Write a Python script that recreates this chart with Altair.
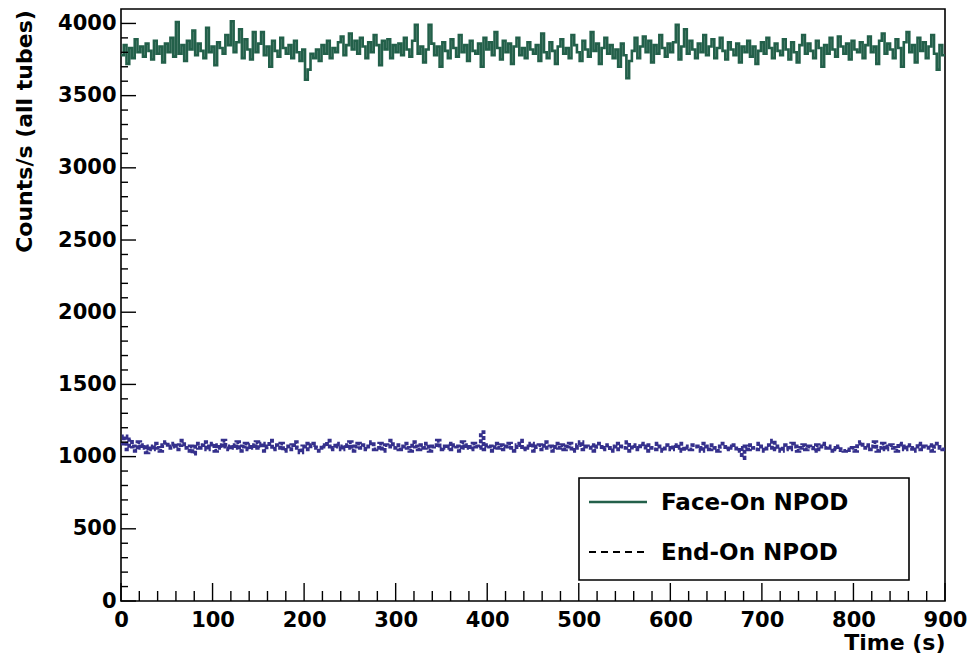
import altair as alt
import pandas as pd

# ---------------- data ----------------
bin_edges = list(range(0, 901, 3))  # 300 bins of 3 s, last edge = 900 s

face_on = [
    3780, 3850, 3720, 3830, 3760, 3890, 3800, 3840, 3770, 3860,
    3810, 3750, 3880, 3790, 3840, 3730, 3860, 3800, 3900, 3770,
    4010, 3790, 3850, 3740, 3880, 3820, 3950, 3780, 3860, 3810,
    3760, 3970, 3800, 3840, 3710, 3870, 3830, 3790, 3920, 3850,
    4015, 3800, 3870, 3960, 3760, 3890, 3820, 3750, 3940, 3800,
    3860, 3940, 3780, 3840, 3700, 3880, 3810, 3770, 3900, 3830,
    3790, 3850, 3760, 3880, 3800, 3740, 3820, 3610, 3680, 3790,
    3760, 3820, 3740, 3850, 3790, 3880, 3760, 3830, 3800, 3870,
    3910, 3780, 3850, 3930, 3820, 3880, 3790, 3900, 3840, 3760,
    3870, 3800, 3920, 3850, 3710, 3880, 3820, 3890, 3760, 3850,
    3800, 3860, 3780, 3900, 3820, 3770, 3880, 3990, 3790, 3840,
    3730, 3820, 3990, 3860, 3780, 3840, 3700, 3870, 3810, 3760,
    3890, 3830, 3770, 3920, 3800, 3850, 3740, 3880, 3810, 3790,
    3860, 3700, 3900, 3820, 3870, 3780, 3940, 3830, 3750, 3880,
    3800, 3860, 3720, 3840, 3900, 3780, 3830, 3760, 3870, 3820,
    3790, 3850, 3740, 3930, 3800, 3760, 3870, 3810, 3720, 3840,
    3890, 3790, 3830, 3760, 3920, 3850, 3800, 3740, 3880, 3820,
    3770, 3940, 3810, 3860, 3720, 3830, 3900, 3790, 3850, 3760,
    3820, 3700, 3860, 3780, 3620, 3740, 3810, 3900, 3760, 3840,
    3910, 3800, 3880, 3730, 3850, 3790, 3920, 3830, 3770, 3860,
    3800, 3870, 3990, 3750, 3840, 3960, 3790, 3880, 3820, 3760,
    3860, 3800, 3920, 3780, 3840, 3890, 3760, 3830, 3900, 3810,
    3750, 3870, 3820, 3780, 3860, 3730, 3840, 3800, 3880, 3770,
    3840, 3720, 3810, 3870, 3790, 3900, 3830, 3760, 3860, 3810,
    3780, 3890, 3820, 3750, 3870, 3800, 3730, 3850, 3920, 3790,
    3860, 3810, 3760, 3880, 3830, 3700, 3850, 3790, 3900, 3820,
    3770, 3910, 3840, 3790, 3860, 3750, 3880, 3820, 3800, 3870,
    3760, 3850, 3910, 3800, 3840, 3720, 3880, 3930, 3790, 3860,
    3820, 3760, 3890, 3830, 3700, 3870, 3940, 3800, 3850, 3730,
    3900, 3810, 3870, 3760, 3840, 3920, 3790, 3680, 3850, 3780,
]

end_on = [
    1090, 1140, 1050, 1120, 1070, 1040, 1100, 1060, 1080, 1030,
    1070, 1050, 1090, 1060, 1040, 1080, 1100, 1060, 1070, 1090,
    1050, 1080, 1110, 1060, 1040, 1070, 1020, 1090, 1060, 1080,
    1100, 1050, 1070, 1090, 1040, 1080, 1060, 1110, 1070, 1050,
    1080, 1060, 1100, 1040, 1070, 1090, 1050, 1080, 1060, 1100,
    1060, 1090, 1040, 1070, 1110, 1050, 1080, 1060, 1090, 1040,
    1070, 1050, 1080, 1100, 1060, 1030, 1070, 1090, 1050, 1080,
    1090, 1060, 1040, 1080, 1070, 1110, 1050, 1060, 1090, 1070,
    1050, 1080, 1060, 1100, 1040, 1070, 1090, 1060, 1080, 1050,
    1070, 1100, 1050, 1060, 1090, 1040, 1080, 1070, 1110, 1060,
    1080, 1050, 1070, 1090, 1060, 1040, 1100, 1070, 1050, 1080,
    1060, 1090, 1040, 1070, 1080, 1110, 1050, 1070, 1060, 1090,
    1050, 1080, 1070, 1040, 1100, 1060, 1080, 1050, 1090, 1070,
    1060, 1170, 1050, 1080, 1070, 1040, 1090, 1060, 1080, 1050,
    1070, 1090, 1060, 1040, 1080, 1110, 1050, 1070, 1060, 1090,
    1040, 1070, 1080, 1050, 1100, 1060, 1070, 1040, 1090, 1060,
    1080, 1050, 1070, 1090, 1040, 1060, 1080, 1100, 1050, 1070,
    1060, 1080, 1040, 1070, 1090, 1050, 1060, 1080, 1040, 1070,
    1090, 1050, 1070, 1060, 1100, 1040, 1080, 1060, 1050, 1090,
    1070, 1040, 1080, 1060, 1050, 1090, 1070, 1040, 1080, 1060,
    1050, 1080, 1060, 1090, 1040, 1070, 1060, 1050, 1080, 1070,
    1060, 1040, 1090, 1070, 1050, 1080, 1060, 1040, 1070, 1090,
    1050, 1070, 1060, 1080, 1040, 1060, 990, 1070, 1050, 1080,
    1060, 1050, 1090, 1070, 1040, 1080, 1060, 1110, 1050, 1070,
    1040, 1080, 1060, 1050, 1090, 1070, 1040, 1060, 1080, 1050,
    1070, 1060, 1040, 1080, 1050, 1090, 1060, 1070, 1040, 1060,
    1050, 1070, 1045, 1040, 1050, 1045, 1060, 1040, 1090, 1100,
    1060, 1080, 1050, 1070, 1100, 1040, 1060, 1090, 1050, 1070,
    1080, 1060, 1040, 1090, 1070, 1050, 1080, 1060, 1040, 1070,
    1090, 1050, 1070, 1060, 1080, 1040, 1070, 1090, 1060, 1050,
]

series_names = ["Face-On NPOD", "End-On NPOD"]
x_major = list(range(0, 901, 100))
x_minor = [v for v in range(0, 901, 20) if v % 100]
y_major = list(range(0, 4001, 500))
y_minor = [v for v in range(0, 4001, 100) if v % 500]
x_title = "Time (s)"
y_title = "Counts/s (all tubes)"

# ---------------- styling ----------------
GREEN = "#23604a"
PURPLE = "#35308c"
FONT = "DejaVu Sans"
W, H = 824, 592


def step_frame(vals):
    # each value holds over its bin; repeat the last one at the closing edge
    return pd.DataFrame({"t": bin_edges, "v": vals + [vals[-1]]})


xscale = alt.Scale(domain=[0, 900], nice=False, zero=False)
yscale = alt.Scale(domain=[0, 4100], nice=False)

xaxis = alt.Axis(
    values=x_major, format="d", ticks=False, domain=False, grid=False,
    labelFont=FONT, labelFontSize=21, labelFontWeight="bold", labelColor="black",
    labelPadding=8, labelFlush=False, labelOverlap=False,
    title=x_title, titleFont=FONT, titleFontSize=22, titleFontWeight="bold",
    titleColor="black", titleAnchor="end", titleAlign="right",
    titleX=W, titleY=48, titleBaseline="alphabetic",
)
yaxis = alt.Axis(
    values=y_major, format="d", ticks=False, domain=False, grid=False,
    labelFont=FONT, labelFontSize=21, labelFontWeight="bold", labelColor="black",
    labelPadding=5, labelFlush=False, labelOverlap=False,
    title=y_title, titleFont=FONT, titleFontSize=22, titleFontWeight="bold",
    titleColor="black", titleAngle=270, titleAlign="center", titleBaseline="middle",
    titleX=-97, titleY=122,
)

face_line = alt.Chart(step_frame(face_on)).mark_line(
    interpolate="step-after", color=GREEN, strokeWidth=2.6
).encode(
    x=alt.X("t:Q", scale=xscale, axis=xaxis),
    y=alt.Y("v:Q", scale=yscale, axis=yaxis),
)

end_line = alt.Chart(step_frame(end_on)).mark_line(
    interpolate="step-after", color=PURPLE, strokeWidth=3.8, strokeDash=[4, 2]
).encode(
    x=alt.X("t:Q", scale=xscale, axis=xaxis),
    y=alt.Y("v:Q", scale=yscale, axis=yaxis),
)


def xticks(vals, length):
    return alt.Chart(pd.DataFrame({"t": vals})).mark_rule(
        color="black", strokeWidth=1.4
    ).encode(
        x=alt.X("t:Q", scale=xscale, axis=xaxis),
        y=alt.value(H), y2=alt.value(H - length),
    )


def yticks(vals, length):
    return alt.Chart(pd.DataFrame({"v": vals})).mark_rule(
        color="black", strokeWidth=1.4
    ).encode(
        y=alt.Y("v:Q", scale=yscale, axis=yaxis),
        x=alt.value(0), x2=alt.value(length),
    )


one = alt.Data(values=[{"k": 1}])

legend_box = alt.Chart(one).mark_rect(
    fill="white", stroke="black", strokeWidth=1.6
).encode(
    x=alt.value(458), x2=alt.value(788), y=alt.value(469), y2=alt.value(571)
)
legend_face = alt.Chart(one).mark_rule(color=GREEN, strokeWidth=2.5).encode(
    x=alt.value(468), x2=alt.value(526), y=alt.value(493)
)
legend_end = alt.Chart(one).mark_rule(
    color="black", strokeWidth=2, strokeDash=[7, 5]
).encode(
    x=alt.value(468), x2=alt.value(526), y=alt.value(543)
)
legend_text_face = alt.Chart(one).mark_text(
    align="left", baseline="middle", font=FONT, fontSize=23,
    fontWeight="bold", color="black"
).encode(x=alt.value(540), y=alt.value(494), text=alt.value(series_names[0]))
legend_text_end = alt.Chart(one).mark_text(
    align="left", baseline="middle", font=FONT, fontSize=23,
    fontWeight="bold", color="black"
).encode(x=alt.value(540), y=alt.value(544), text=alt.value(series_names[1]))

chart = alt.layer(
    face_line, end_line,
    xticks(x_major, 18), xticks(x_minor, 10),
    yticks(y_major, 15), yticks(y_minor, 7),
    legend_box, legend_face, legend_end, legend_text_face, legend_text_end,
).properties(
    width=W, height=H,
    autosize=alt.AutoSizeParams(type="none"),
    padding={"left": 113, "top": 1, "right": 22, "bottom": 52},
    background="white",
).configure_view(
    stroke="black", strokeWidth=1.6
)

chart.save("out.html", embed_options={"renderer": "svg", "actions": False})
